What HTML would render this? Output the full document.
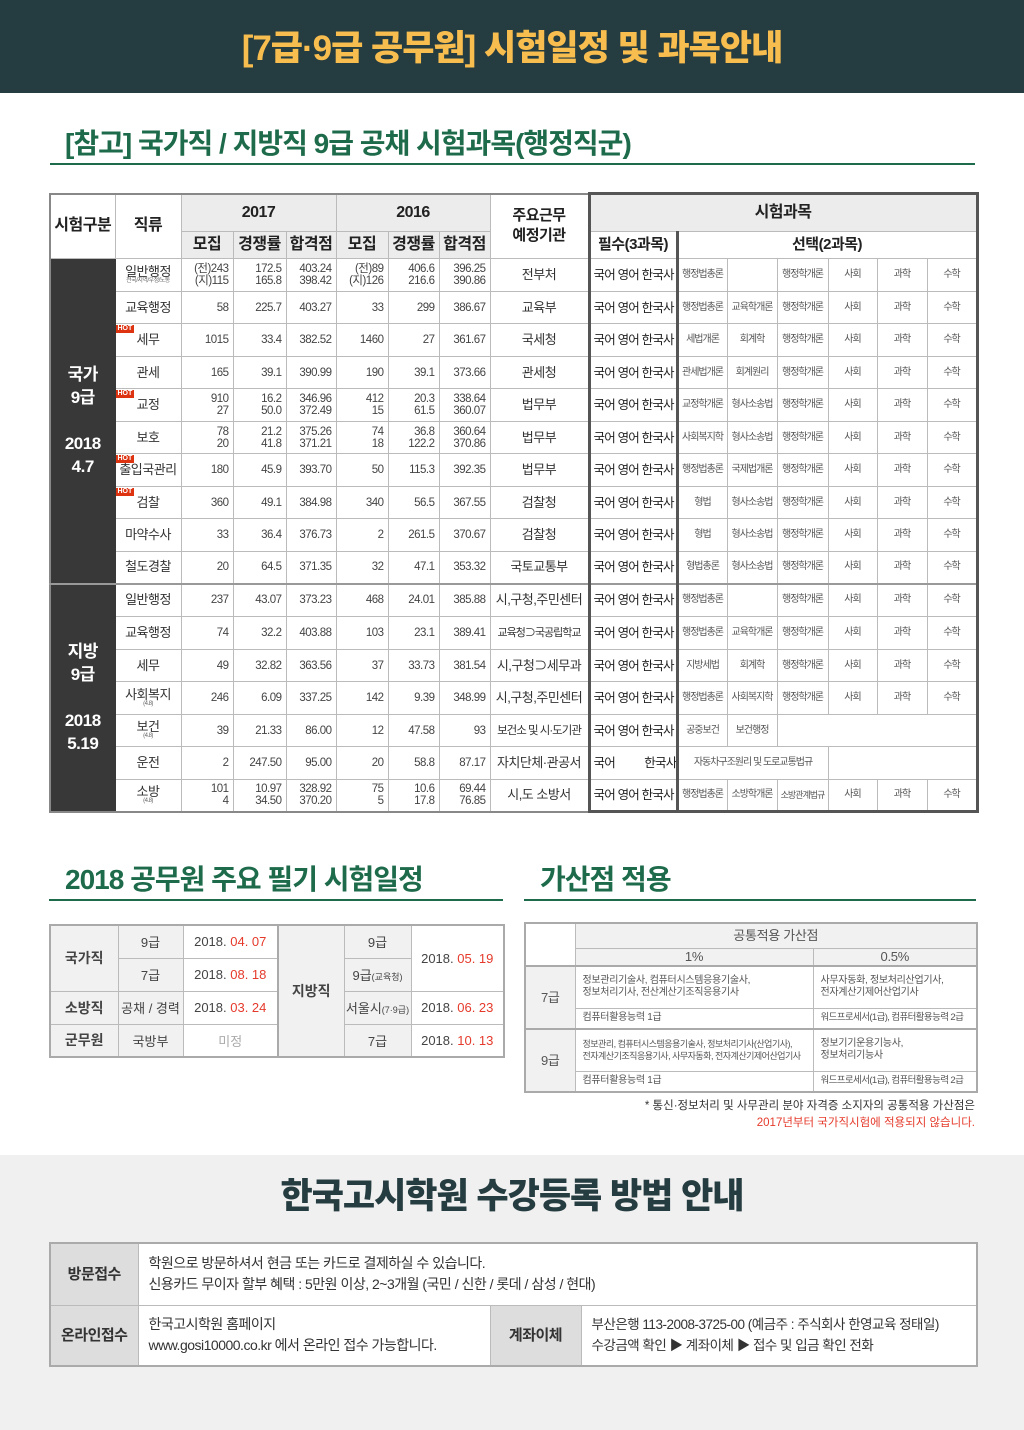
<!DOCTYPE html>
<html><head><meta charset="utf-8">
<style>
*{margin:0;padding:0;box-sizing:border-box}
body{width:1024px;height:1430px;background:#fff;font-family:"Liberation Sans","Noto Sans CJK KR",sans-serif;color:#333;position:relative;overflow:hidden}
.abs{position:absolute}
#hdr{left:0;top:0;width:1024px;height:93px;background:#253c40;color:#f8bd4f;font-size:35px;font-weight:900;text-align:center;line-height:98px;letter-spacing:-1px}
.h2{color:#1d6b4b;font-weight:700;font-size:28px;letter-spacing:-1px}
.ul{height:2px;background:#1d6b4b}
table{border-collapse:collapse;table-layout:fixed}
td{border:1px solid #bbb;text-align:center;vertical-align:middle;padding:0;overflow:hidden;white-space:nowrap}
#main{left:49px;top:192px;width:927px;border:2px solid #888}
#main td{font-size:12px;line-height:12px;letter-spacing:-0.5px}
#main .hd{background:#ececec;font-weight:700;font-size:16px;color:#222}
#main .h2c{background:#fff;font-weight:700;font-size:15px;color:#222}
#main .dk{background:#383838;color:#fff;font-size:17px;line-height:23px;font-weight:700;border-color:#383838}
#main .jr{font-size:13px;color:#333;position:relative}
#main .n{text-align:right;padding-right:4px;font-size:11.5px;color:#444}
#main .ag{font-size:13px}
#main .p{font-size:12.5px;color:#222;text-align:left;padding-left:3px;letter-spacing:-0.8px;border-left:3px solid #555;border-right:3px solid #555}
#main .s{font-size:10px;letter-spacing:-1px;color:#555}
#main .sub{font-size:6px;display:block;color:#666;line-height:7px}
.hot{position:absolute;left:0;top:1px;background:#d31;color:#fff;font-size:7px;line-height:8px;padding:0 2px;font-weight:700;letter-spacing:0}
.rt{border-right:3px solid #555!important}
#sch{left:49px;top:924px;width:454px;border:2px solid #aaa}
#sch td{font-size:13px;color:#444;height:33px}
#sch .g{background:#f1f1f1}
#sch .b{font-weight:700;font-size:14px}
.r{color:#e53a2b}
#bon{left:524px;top:922px;width:452px;border:2px solid #aaa}
#bon td{font-size:10px;color:#555;text-align:left;padding-left:7px;line-height:12px;letter-spacing:-0.3px}
#bon td.c{text-align:center;padding:0;font-size:13px}
#bon .g{background:#f1f1f1}
#bot{left:0;top:1155px;width:1024px;height:275px;background:#f0f0f0}
#reg{left:49px;top:1242px;width:927px;border:2px solid #aaa}
#reg td{font-size:14px;color:#333;text-align:left;padding-left:10px;line-height:21px;background:#fff;letter-spacing:-0.5px}
#reg td.l{background:#ddd;text-align:center;padding:0;font-weight:700;font-size:15px}
</style></head><body>
<div id="hdr" class="abs">[7급·9급 공무원] 시험일정 및 과목안내</div>
<div class="abs h2" style="left:65px;top:122px">[참고] 국가직 / 지방직 9급 공채 시험과목(행정직군)</div>
<div class="abs ul" style="left:50px;top:163px;width:925px"></div>

<table id="main" class="abs">
<colgroup><col style="width:65px"><col style="width:66px"><col style="width:52px"><col style="width:53px"><col style="width:50px"><col style="width:52px"><col style="width:51px"><col style="width:51px"><col style="width:99px"><col style="width:88px"><col style="width:50px"><col style="width:50px"><col style="width:51px"><col style="width:49px"><col style="width:50px"><col style="width:50px"></colgroup>
<tr style="height:38px"><td rowspan="2" class="h2c" style="font-size:16px">시험구분</td><td rowspan="2" class="h2c" style="font-size:16px">직류</td><td colspan="3" class="hd">2017</td><td colspan="3" class="hd">2016</td><td rowspan="2" class="h2c" style="line-height:20px">주요근무<br>예정기관</td><td colspan="7" class="hd" style="border:3px solid #555;border-bottom:1px solid #bbb">시험과목</td></tr>
<tr style="height:27px"><td class="hd">모집</td><td class="hd">경쟁률</td><td class="hd">합격점</td><td class="hd">모집</td><td class="hd">경쟁률</td><td class="hd">합격점</td><td class="h2c" style="border-left:3px solid #555;border-right:3px solid #555">필수(3과목)</td><td colspan="6" class="h2c rt">선택(2과목)</td></tr>

<tr style="height:33px"><td rowspan="10" class="dk">국가<br>9급<br><br>2018<br>4.7</td><td class="jr">일반행정<span class="sub">전국/지역/우정/노동</span></td><td class="n">(전)243<br>(지)115</td><td class="n">172.5<br>165.8</td><td class="n">403.24<br>398.42</td><td class="n">(전)89<br>(지)126</td><td class="n">406.6<br>216.6</td><td class="n">396.25<br>390.86</td><td class="ag">전부처</td><td class="p">국어 영어 한국사</td><td class="s">행정법총론</td><td class="s"></td><td class="s">행정학개론</td><td class="s">사회</td><td class="s">과학</td><td class="s rt">수학</td></tr>
<tr style="height:32px"><td class="jr">교육행정</td><td class="n">58</td><td class="n">225.7</td><td class="n">403.27</td><td class="n">33</td><td class="n">299</td><td class="n">386.67</td><td class="ag">교육부</td><td class="p">국어 영어 한국사</td><td class="s">행정법총론</td><td class="s">교육학개론</td><td class="s">행정학개론</td><td class="s">사회</td><td class="s">과학</td><td class="s rt">수학</td></tr>
<tr style="height:33px"><td class="jr"><span class="hot">HOT</span>세무</td><td class="n">1015</td><td class="n">33.4</td><td class="n">382.52</td><td class="n">1460</td><td class="n">27</td><td class="n">361.67</td><td class="ag">국세청</td><td class="p">국어 영어 한국사</td><td class="s">세법개론</td><td class="s">회계학</td><td class="s">행정학개론</td><td class="s">사회</td><td class="s">과학</td><td class="s rt">수학</td></tr>
<tr style="height:32px"><td class="jr">관세</td><td class="n">165</td><td class="n">39.1</td><td class="n">390.99</td><td class="n">190</td><td class="n">39.1</td><td class="n">373.66</td><td class="ag">관세청</td><td class="p">국어 영어 한국사</td><td class="s">관세법개론</td><td class="s">회계원리</td><td class="s">행정학개론</td><td class="s">사회</td><td class="s">과학</td><td class="s rt">수학</td></tr>
<tr style="height:33px"><td class="jr"><span class="hot">HOT</span>교정</td><td class="n">910<br>27</td><td class="n">16.2<br>50.0</td><td class="n">346.96<br>372.49</td><td class="n">412<br>15</td><td class="n">20.3<br>61.5</td><td class="n">338.64<br>360.07</td><td class="ag">법무부</td><td class="p">국어 영어 한국사</td><td class="s">교정학개론</td><td class="s">형사소송법</td><td class="s">행정학개론</td><td class="s">사회</td><td class="s">과학</td><td class="s rt">수학</td></tr>
<tr style="height:32px"><td class="jr">보호</td><td class="n">78<br>20</td><td class="n">21.2<br>41.8</td><td class="n">375.26<br>371.21</td><td class="n">74<br>18</td><td class="n">36.8<br>122.2</td><td class="n">360.64<br>370.86</td><td class="ag">법무부</td><td class="p">국어 영어 한국사</td><td class="s">사회복지학</td><td class="s">형사소송법</td><td class="s">행정학개론</td><td class="s">사회</td><td class="s">과학</td><td class="s rt">수학</td></tr>
<tr style="height:33px"><td class="jr"><span class="hot">HOT</span>출입국관리</td><td class="n">180</td><td class="n">45.9</td><td class="n">393.70</td><td class="n">50</td><td class="n">115.3</td><td class="n">392.35</td><td class="ag">법무부</td><td class="p">국어 영어 한국사</td><td class="s">행정법총론</td><td class="s">국제법개론</td><td class="s">행정학개론</td><td class="s">사회</td><td class="s">과학</td><td class="s rt">수학</td></tr>
<tr style="height:32px"><td class="jr"><span class="hot">HOT</span>검찰</td><td class="n">360</td><td class="n">49.1</td><td class="n">384.98</td><td class="n">340</td><td class="n">56.5</td><td class="n">367.55</td><td class="ag">검찰청</td><td class="p">국어 영어 한국사</td><td class="s">형법</td><td class="s">형사소송법</td><td class="s">행정학개론</td><td class="s">사회</td><td class="s">과학</td><td class="s rt">수학</td></tr>
<tr style="height:33px"><td class="jr">마약수사</td><td class="n">33</td><td class="n">36.4</td><td class="n">376.73</td><td class="n">2</td><td class="n">261.5</td><td class="n">370.67</td><td class="ag">검찰청</td><td class="p">국어 영어 한국사</td><td class="s">형법</td><td class="s">형사소송법</td><td class="s">행정학개론</td><td class="s">사회</td><td class="s">과학</td><td class="s rt">수학</td></tr>
<tr style="height:32px"><td class="jr">철도경찰</td><td class="n">20</td><td class="n">64.5</td><td class="n">371.35</td><td class="n">32</td><td class="n">47.1</td><td class="n">353.32</td><td class="ag">국토교통부</td><td class="p">국어 영어 한국사</td><td class="s">형법총론</td><td class="s">형사소송법</td><td class="s">행정학개론</td><td class="s">사회</td><td class="s">과학</td><td class="s rt">수학</td></tr>

<tr style="height:33px;border-top:2px solid #999"><td rowspan="7" class="dk">지방<br>9급<br><br>2018<br>5.19</td><td class="jr">일반행정</td><td class="n">237</td><td class="n">43.07</td><td class="n">373.23</td><td class="n">468</td><td class="n">24.01</td><td class="n">385.88</td><td class="ag">시,구청,주민센터</td><td class="p">국어 영어 한국사</td><td class="s">행정법총론</td><td class="s"></td><td class="s">행정학개론</td><td class="s">사회</td><td class="s">과학</td><td class="s rt">수학</td></tr>
<tr style="height:33px"><td class="jr">교육행정</td><td class="n">74</td><td class="n">32.2</td><td class="n">403.88</td><td class="n">103</td><td class="n">23.1</td><td class="n">389.41</td><td class="ag" style="font-size:11px;letter-spacing:-1px">교육청⊃국공립학교</td><td class="p">국어 영어 한국사</td><td class="s">행정법총론</td><td class="s">교육학개론</td><td class="s">행정학개론</td><td class="s">사회</td><td class="s">과학</td><td class="s rt">수학</td></tr>
<tr style="height:32px"><td class="jr">세무</td><td class="n">49</td><td class="n">32.82</td><td class="n">363.56</td><td class="n">37</td><td class="n">33.73</td><td class="n">381.54</td><td class="ag">시,구청⊃세무과</td><td class="p">국어 영어 한국사</td><td class="s">지방세법</td><td class="s">회계학</td><td class="s">행정학개론</td><td class="s">사회</td><td class="s">과학</td><td class="s rt">수학</td></tr>
<tr style="height:33px"><td class="jr">사회복지<span class="sub">(4.8)</span></td><td class="n">246</td><td class="n">6.09</td><td class="n">337.25</td><td class="n">142</td><td class="n">9.39</td><td class="n">348.99</td><td class="ag">시,구청,주민센터</td><td class="p">국어 영어 한국사</td><td class="s">행정법총론</td><td class="s">사회복지학</td><td class="s">행정학개론</td><td class="s">사회</td><td class="s">과학</td><td class="s rt">수학</td></tr>
<tr style="height:32px"><td class="jr">보건<span class="sub">(4.8)</span></td><td class="n">39</td><td class="n">21.33</td><td class="n">86.00</td><td class="n">12</td><td class="n">47.58</td><td class="n">93</td><td class="ag" style="font-size:11.5px;letter-spacing:-1px">보건소 및 시·도기관</td><td class="p">국어 영어 한국사</td><td class="s">공중보건</td><td class="s">보건행정</td><td colspan="4" class="s rt"></td></tr>
<tr style="height:33px"><td class="jr">운전</td><td class="n">2</td><td class="n">247.50</td><td class="n">95.00</td><td class="n">20</td><td class="n">58.8</td><td class="n">87.17</td><td class="ag">자치단체·관공서</td><td class="p">국어 &nbsp;&nbsp;&nbsp;&nbsp;&nbsp;&nbsp;&nbsp;&nbsp;&nbsp;&nbsp;한국사</td><td colspan="3" class="s">자동차구조원리 및 도로교통법규</td><td colspan="3" class="s rt"></td></tr>
<tr style="height:32px"><td class="jr">소방<span class="sub">(4.8)</span></td><td class="n">101<br>4</td><td class="n">10.97<br>34.50</td><td class="n">328.92<br>370.20</td><td class="n">75<br>5</td><td class="n">10.6<br>17.8</td><td class="n">69.44<br>76.85</td><td class="ag">시,도 소방서</td><td class="p" style="border-bottom:3px solid #555">국어 영어 한국사</td><td class="s" style="border-bottom:3px solid #555">행정법총론</td><td class="s" style="border-bottom:3px solid #555">소방학개론</td><td class="s" style="border-bottom:3px solid #555;font-size:9px">소방관계법규</td><td class="s" style="border-bottom:3px solid #555">사회</td><td class="s" style="border-bottom:3px solid #555">과학</td><td class="s rt" style="border-bottom:3px solid #555">수학</td></tr>
</table>

<div class="abs h2" style="left:65px;top:858px">2018 공무원 주요 필기 시험일정</div>
<div class="abs ul" style="left:49px;top:899px;width:454px"></div>
<div class="abs h2" style="left:540px;top:858px">가산점 적용</div>
<div class="abs ul" style="left:524px;top:899px;width:452px"></div>

<table id="sch" class="abs">
<colgroup><col style="width:68px"><col style="width:65px"><col style="width:95px"><col style="width:66px"><col style="width:67px"><col style="width:93px"></colgroup>
<tr><td rowspan="2" class="g b">국가직</td><td class="g">9급</td><td>2018. <span class="r">04. 07</span></td><td rowspan="4" class="g b" style="border-left:2px solid #aaa">지방직</td><td class="g">9급</td><td rowspan="2">2018. <span class="r">05. 19</span></td></tr>
<tr><td class="g">7급</td><td>2018. <span class="r">08. 18</span></td><td class="g">9급<span style="font-size:9px">(교육청)</span></td></tr>
<tr><td class="g b">소방직</td><td class="g">공채 / 경력</td><td>2018. <span class="r">03. 24</span></td><td class="g">서울시<span style="font-size:9px">(7·9급)</span></td><td>2018. <span class="r">06. 23</span></td></tr>
<tr><td class="g b">군무원</td><td class="g">국방부</td><td style="color:#aaa">미정</td><td class="g">7급</td><td>2018. <span class="r">10. 13</span></td></tr>
</table>

<table id="bon" class="abs">
<colgroup><col style="width:50px"><col style="width:238px"><col style="width:164px"></colgroup>
<tr style="height:25px"><td rowspan="2" class="c"></td><td colspan="2" class="c g">공통적용 가산점</td></tr>
<tr style="height:18px"><td class="c g">1%</td><td class="c g">0.5%</td></tr>
<tr style="height:42px"><td rowspan="2" class="c g" style="border-top:2px solid #aaa">7급</td><td style="border-top:2px solid #aaa">정보관리기술사, 컴퓨터시스템응용기술사,<br>정보처리기사, 전산계산기조직응용기사</td><td style="border-top:2px solid #aaa">사무자동화, 정보처리산업기사,<br>전자계산기제어산업기사</td></tr>
<tr style="height:21px"><td>컴퓨터활용능력 1급</td><td style="font-size:9.5px;letter-spacing:-0.6px">워드프로세서(1급), 컴퓨터활용능력 2급</td></tr>
<tr style="height:42px"><td rowspan="2" class="c g" style="border-top:2px solid #aaa">9급</td><td style="border-top:2px solid #aaa;font-size:9px;letter-spacing:-0.5px">정보관리, 컴퓨터시스템응용기술사, 정보처리기사(산업기사),<br>전자계산기조직응용기사, 사무자동화, 전자계산기제어산업기사</td><td style="border-top:2px solid #aaa">정보기기운용기능사,<br>정보처리기능사</td></tr>
<tr style="height:21px"><td>컴퓨터활용능력 1급</td><td style="font-size:9.5px;letter-spacing:-0.6px">워드프로세서(1급), 컴퓨터활용능력 2급</td></tr>
</table>
<div class="abs" style="right:49px;top:1098px;font-size:11.5px;color:#333;text-align:right;line-height:17px">* 통신·정보처리 및 사무관리 분야 자격증 소지자의 공통적용 가산점은<br><span class="r">2017년부터 국가직시험에 적용되지 않습니다.</span></div>

<div id="bot" class="abs"></div>
<div class="abs" style="left:0;top:1168px;width:1024px;text-align:center;font-size:35px;font-weight:900;color:#253c40;letter-spacing:-1px">한국고시학원 수강등록 방법 안내</div>
<table id="reg" class="abs">
<colgroup><col style="width:88px"><col style="width:352px"><col style="width:91px"><col style="width:396px"></colgroup>
<tr style="height:62px"><td class="l">방문접수</td><td colspan="3">학원으로 방문하셔서 현금 또는 카드로 결제하실 수 있습니다.<br>신용카드 무이자 할부 혜택 : 5만원 이상, 2~3개월 (국민 / 신한 / 롯데 / 삼성 / 현대)</td></tr>
<tr style="height:61px"><td class="l">온라인접수</td><td>한국고시학원 홈페이지<br>www.gosi10000.co.kr 에서 온라인 접수 가능합니다.</td><td class="l">계좌이체</td><td style="font-size:13.5px">부산은행 113-2008-3725-00 (예금주 : 주식회사 한영교육 정태일)<br>수강금액 확인 ▶ 계좌이체 ▶ 접수 및 입금 확인 전화</td></tr>
</table>
</body></html>
